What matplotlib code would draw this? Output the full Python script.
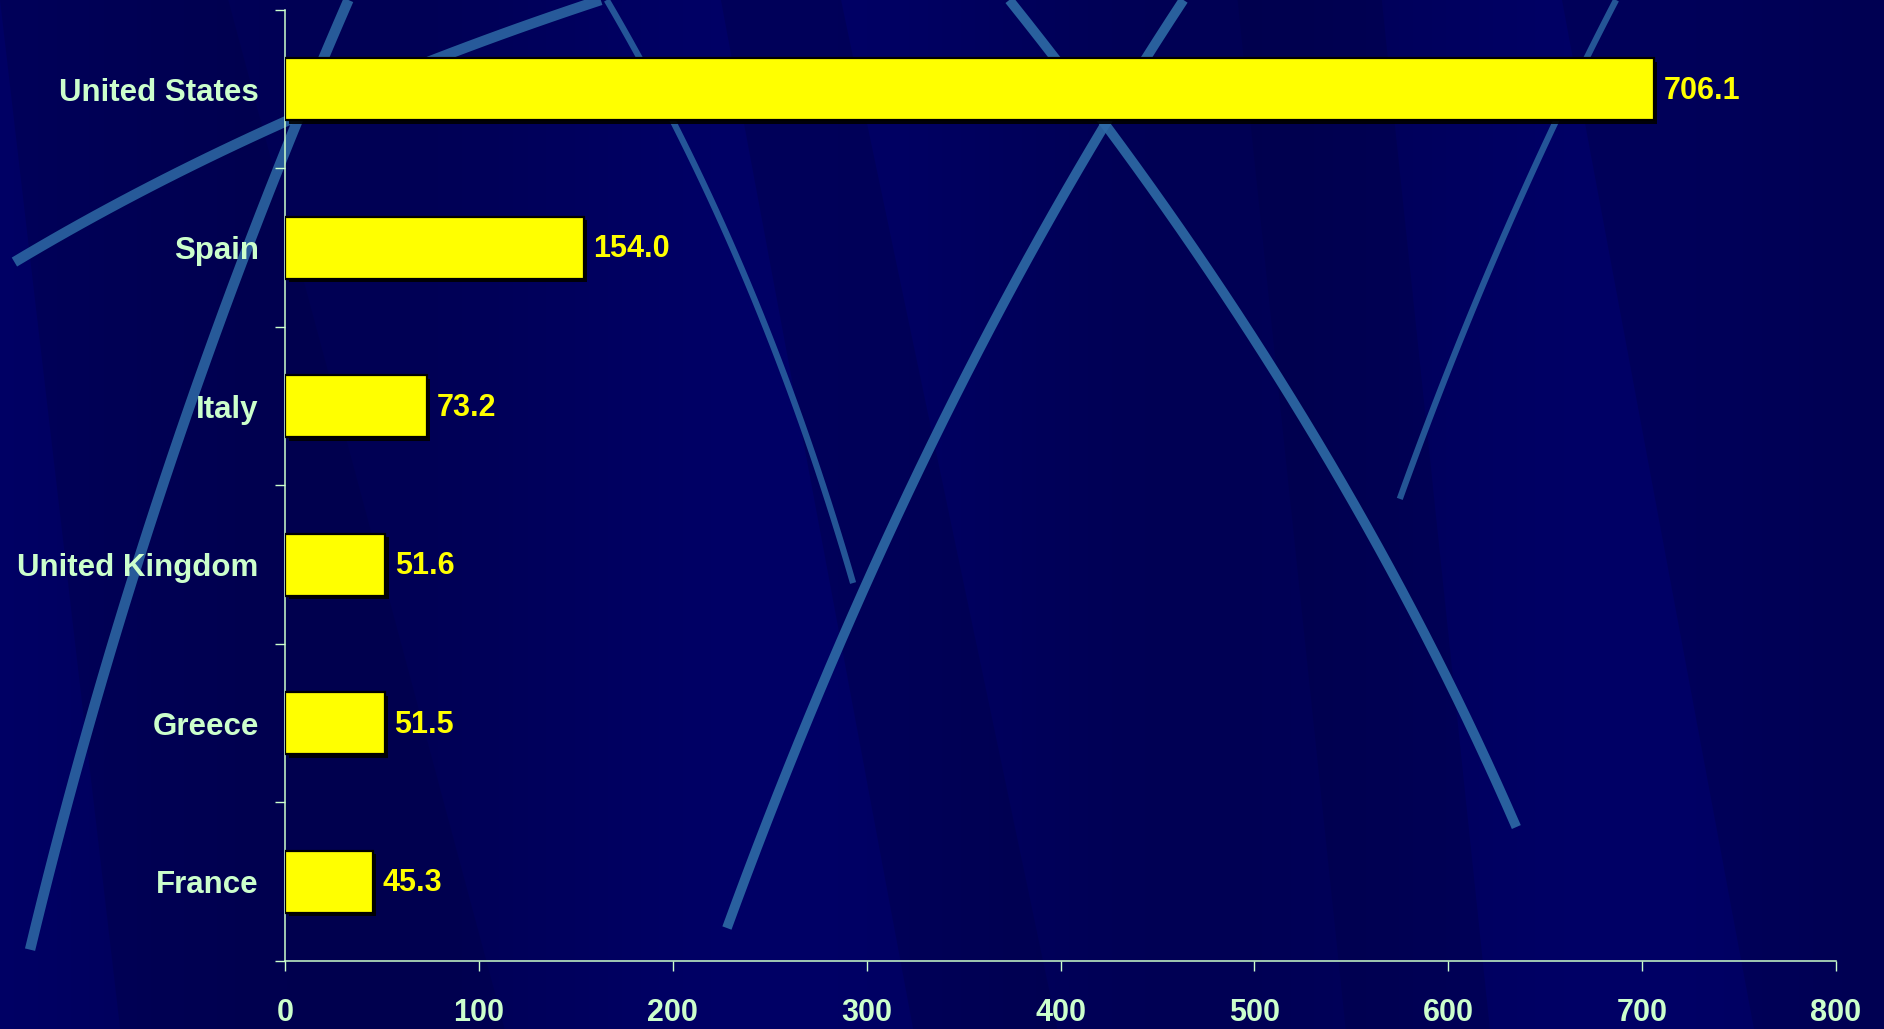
import matplotlib
matplotlib.use("Agg")
import matplotlib.pyplot as plt
import matplotlib.patheffects as pe
from matplotlib.lines import Line2D
from matplotlib.patches import Polygon
import numpy as np

countries = ['United States', 'Spain', 'Italy', 'United Kingdom', 'Greece', 'France']
values = [706.1, 154.0, 73.2, 51.6, 51.5, 45.3]
xticks = [0, 100, 200, 300, 400, 500, 600, 700, 800]

LABEL = '#CCFFCC'
BAR = '#FFFF00'
BG = '#000066'
STREAK = '#2E6BA6'

plt.rcParams['font.family'] = ['Liberation Sans', 'DejaVu Sans']

fig = plt.figure(figsize=(18.84, 10.29), dpi=100)
fig.patch.set_facecolor(BG)

# slide backdrop: soft vertical bands and a few lighter streaks
bg = fig.add_axes([0, 0, 1, 1], zorder=-10)
bg.set_axis_off()
xx = np.linspace(0, 1, 400)
band = 0.5 + 0.5 * np.cos(xx * 2 * np.pi * 2.2 + 0.6)
img = np.zeros((2, 400, 3))
base = np.array([0.0, 0.0, 0.40])
dark = np.array([0.0, 0.0, 0.33])
for k in range(2):
    img[k] = dark[None, :] + (base - dark)[None, :] * band[:, None]
bg.imshow(img, extent=[0, 1, 0, 1], aspect='auto', origin='lower')
bg.set_xlim(0, 1)
bg.set_ylim(0, 1)

def fpt(x, y):
    return (x / 1568.0, 1 - y / 856.0)

panels = [
    [(0, 0), (190, 0), (420, 856), (100, 856)],
    [(600, 0), (700, 0), (880, 856), (760, 856)],
    [(1030, 0), (1150, 0), (1240, 856), (1120, 856)],
    [(1300, 0), (1568, 0), (1568, 856), (1460, 856)],
]
for poly in panels:
    bg.add_patch(Polygon([fpt(*p) for p in poly], closed=True,
                         facecolor='#000044', alpha=0.35, edgecolor='none'))

streaks = [
    ([(25, 790), (140, 390), (290, 0)], 7.5, 0.85),
    ([(12, 218), (240, 100), (500, 0)], 7.5, 0.85),
    ([(505, 0), (620, 230), (710, 485)], 4.5, 0.8),
    ([(840, 0), (1080, 340), (1262, 688)], 7, 0.9),
    ([(985, 0), (780, 360), (605, 772)], 7, 0.9),
    ([(1345, 0), (1250, 200), (1165, 415)], 4.5, 0.8),
]
for pts, lw, a in streaks:
    p = np.array([fpt(*q) for q in pts])
    t = np.linspace(0, 1, 40)
    # quadratic through the three control points
    cx = (1 - t) ** 2 * p[0, 0] + 2 * (1 - t) * t * (2 * p[1, 0] - 0.5 * (p[0, 0] + p[2, 0])) + t ** 2 * p[2, 0]
    cy = (1 - t) ** 2 * p[0, 1] + 2 * (1 - t) * t * (2 * p[1, 1] - 0.5 * (p[0, 1] + p[2, 1])) + t ** 2 * p[2, 1]
    bg.add_line(Line2D(cx, cy, color=STREAK, lw=lw, alpha=a, solid_capstyle='butt'))

ax = fig.add_axes([0.1513, 0.0661, 0.8232, 0.9242])
ax.patch.set_alpha(0)

y = np.arange(len(countries))
bars = ax.barh(y, values, height=0.39, color=BAR, edgecolor='black', linewidth=1.6,
               zorder=3)
for b in bars:
    b.set_path_effects([pe.SimplePatchShadow(offset=(2.5, -2.5), shadow_rgbFace='black',
                                             alpha=0.9), pe.Normal()])

for yi, v in zip(y, values):
    ax.text(v + 5, yi + 0.01, f'{v:.1f}', color=BAR, fontsize=22, fontweight='bold',
            va='center', ha='left', zorder=4)

ax.set_xlim(0, 800)
ax.set_ylim(len(countries) - 0.5, -0.5)
ax.set_xticks(xticks)
ax.set_xticklabels([str(t) for t in xticks], fontweight='bold', fontsize=22,
                   color=LABEL)
ax.set_yticks(y)
ax.set_yticklabels(countries, fontweight='bold', fontsize=22.5, color=LABEL)
ax.set_yticks(np.arange(-0.5, len(countries), 1), minor=True)

ax.tick_params(axis='x', length=7.5, width=1.0, color=LABEL, pad=19)
ax.tick_params(axis='y', which='major', length=0, pad=19)
ax.tick_params(axis='y', which='minor', length=7.5, width=1.0, color=LABEL)

for side in ['top', 'right']:
    ax.spines[side].set_visible(False)
for side in ['left', 'bottom']:
    ax.spines[side].set_color(LABEL)
    ax.spines[side].set_linewidth(1.1)

fig.savefig('out.png', dpi=100, facecolor=fig.get_facecolor())
